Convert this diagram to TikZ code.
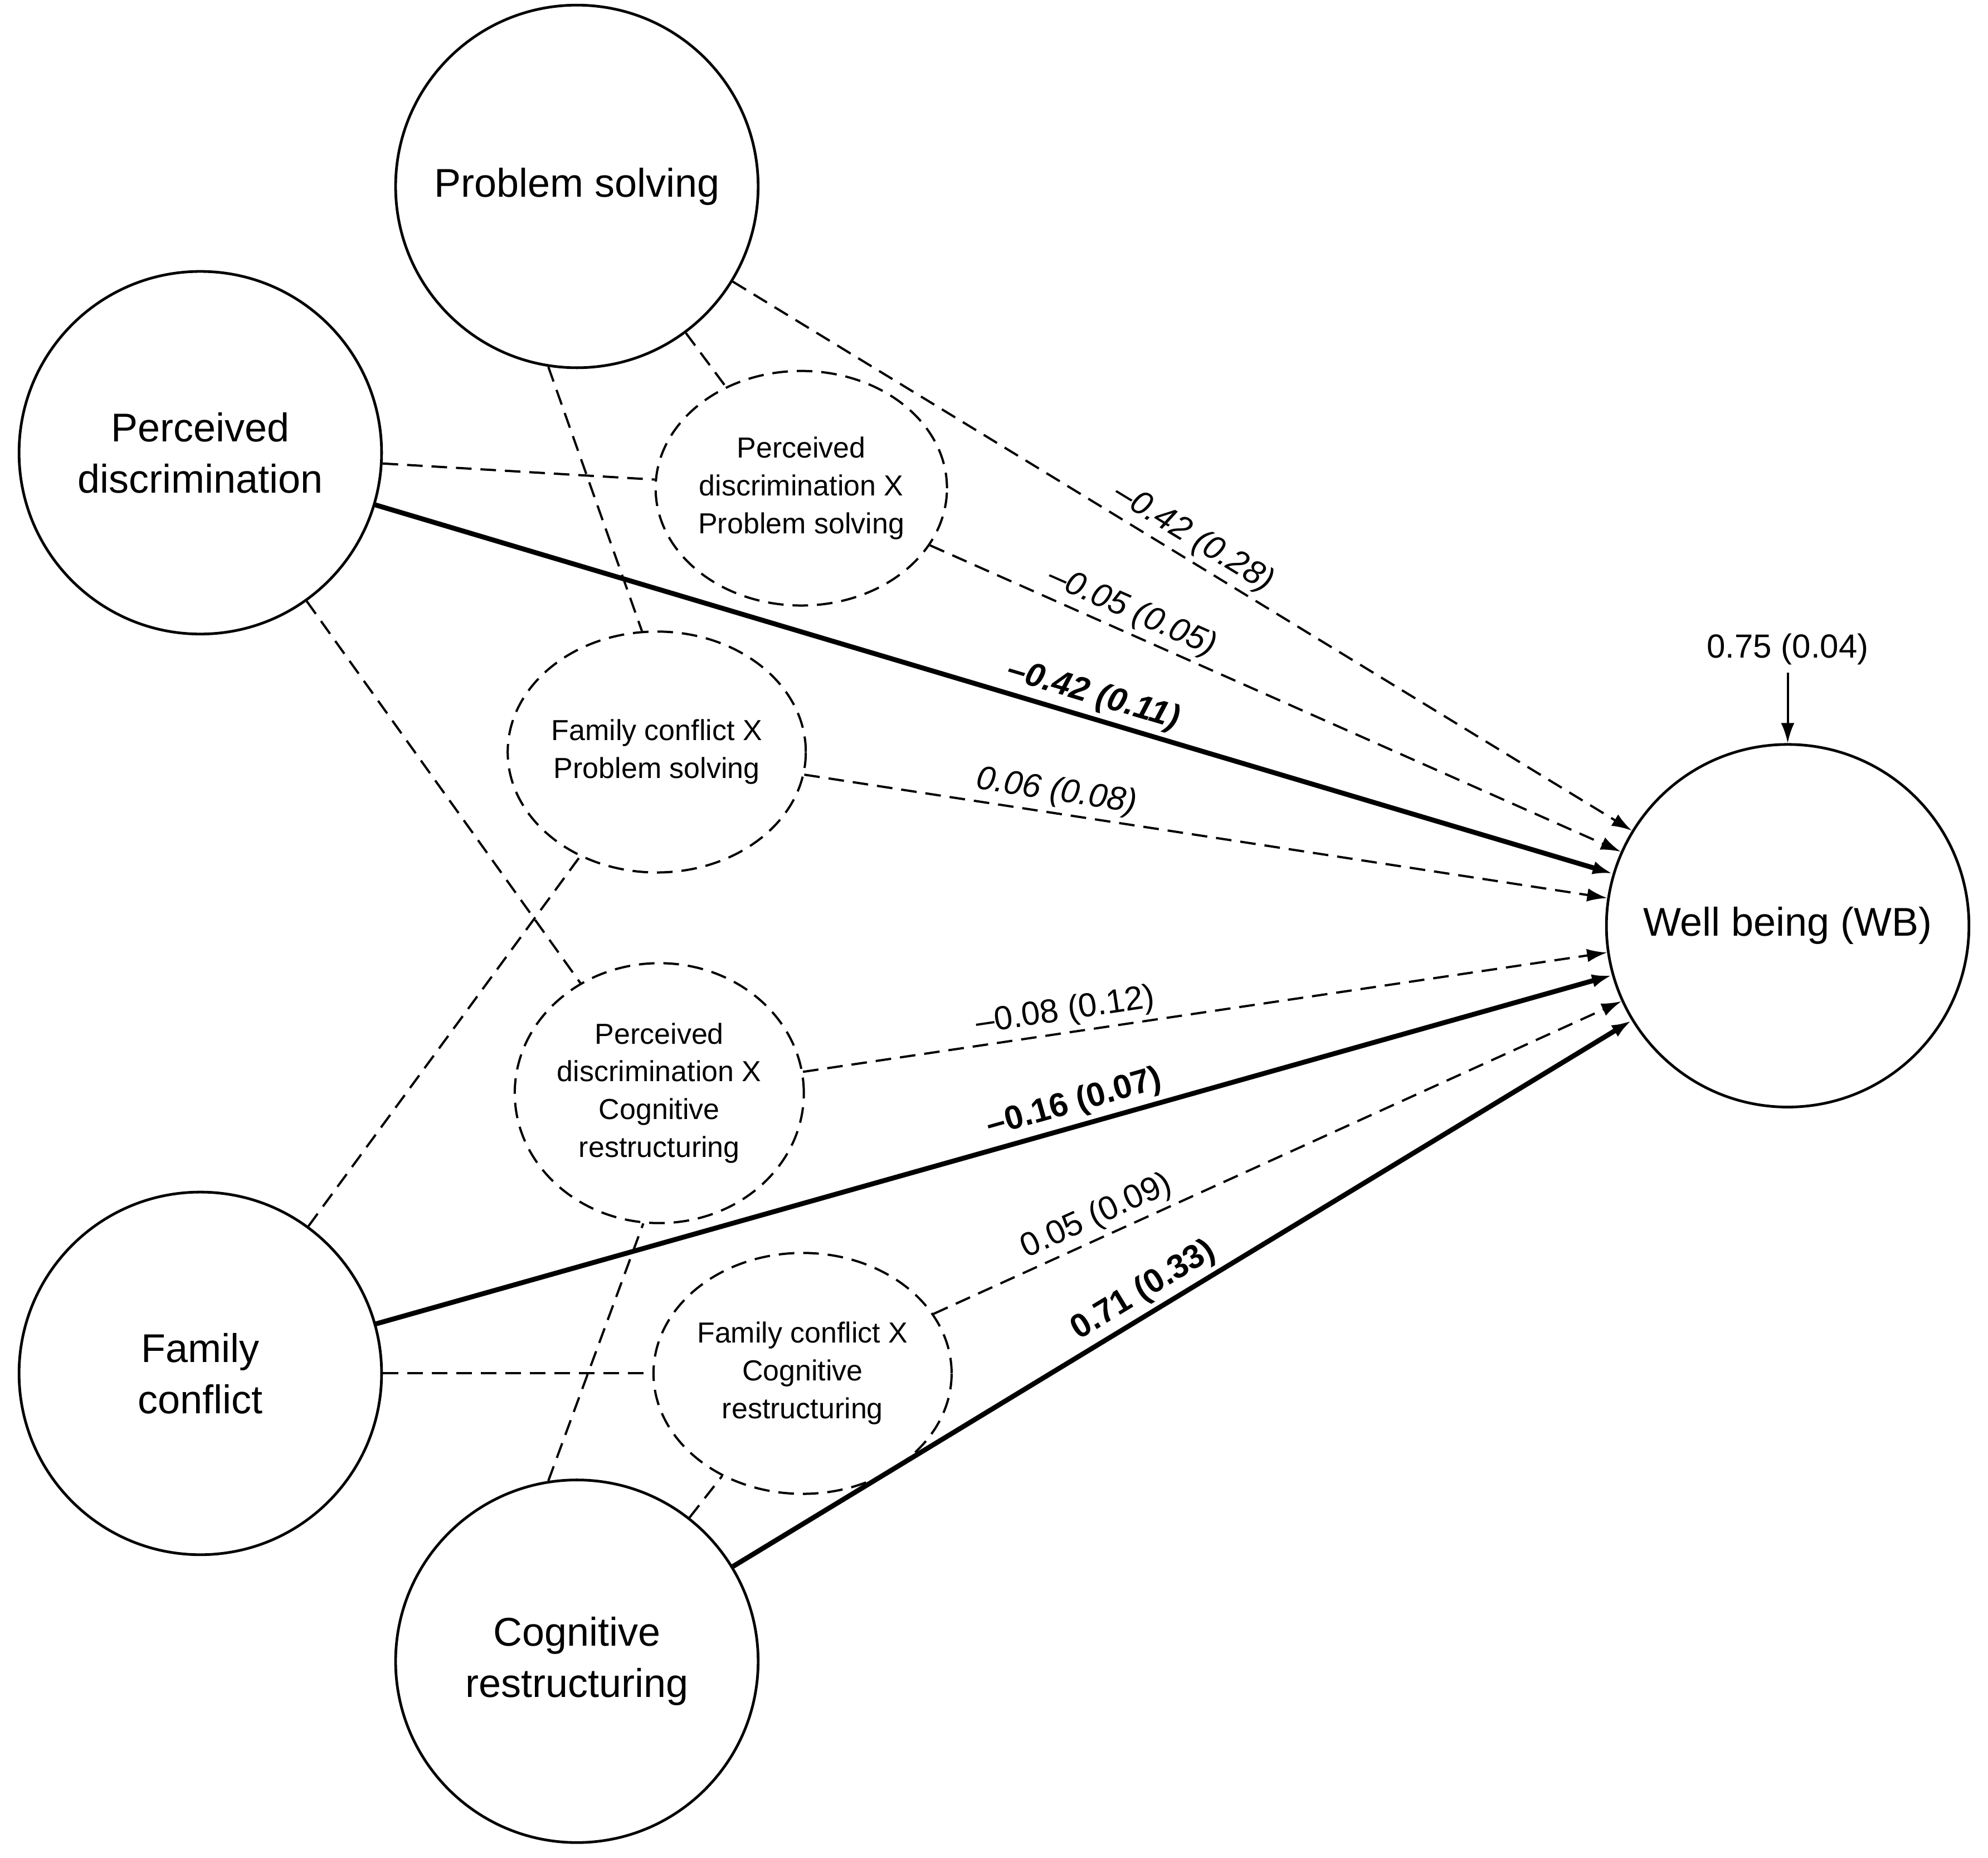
\documentclass[tikz,border=0pt]{standalone}
\usepackage{fontspec}
\setmainfont{Liberation Sans}
\usetikzlibrary{arrows.meta,shapes.geometric}
\begin{document}
\begin{tikzpicture}[x=0.02cm,y=-0.02cm,
 big/.style={circle,draw,line width=1.2pt,minimum size=5.72cm,align=center,font=\fontsize{18}{23}\selectfont},
 dsh/.style={line width=1pt,dash pattern=on 7pt off 4pt},
 sm/.style={ellipse,draw,dsh,inner sep=0pt,align=center,font=\fontsize{13}{17}\selectfont},
 arr/.style={-{Latex[length=9pt,width=6pt]}},
 sol/.style={line width=2.2pt},
 lab/.style={sloped,above,inner sep=2pt,font=\fontsize{15}{18}\selectfont}]
\useasboundingbox (0,0) rectangle (1568,1465);
\node[big] (PS) at (455,147) {Problem solving};
\node[big] (PD) at (158,357) {Perceived\\discrimination};
\node[big] (FC) at (158,1083) {Family\\conflict};
\node[big] (CR) at (455,1310) {Cognitive\\restructuring};
\node[big] (WB) at (1410,730) {Well being (WB)};
\node[sm,minimum width=4.5cm,minimum height=3.7cm] (A) at (632,385) {Perceived\\discrimination X\\Problem solving};
\node[sm,minimum width=4.5cm,minimum height=3.8cm] (B) at (518,593) {Family conflict X\\Problem solving};
\node[sm,minimum width=4.5cm,minimum height=4.1cm] (C) at (520,862) {Perceived\\discrimination X\\Cognitive\\restructuring};
\node[sm,minimum width=4.5cm,minimum height=3.8cm] (D) at (633,1083) {Family conflict X\\Cognitive\\restructuring};
\node[font=\fontsize{15}{18}\selectfont] (res) at (1410,512) {0.75 (0.04)};
\draw[arr,line width=1pt] (res) -- (WB);
\draw[sol,arr] (PD) -- (WB) node[lab,pos=0.575,font=\fontsize{15}{18}\selectfont\bfseries\itshape] {–0.42 (0.11)};
\draw[sol,arr] (FC) -- (WB) node[lab,pos=0.57,font=\fontsize{15}{18}\selectfont\bfseries] {–0.16 (0.07)};
\draw[sol,arr] (CR) -- (WB) node[lab,pos=0.47,font=\fontsize{15}{18}\selectfont\bfseries] {0.71 (0.33)};
\draw[dsh,arr] (PS) -- (WB) node[lab,pos=0.5,font=\fontsize{15}{18}\selectfont\itshape] {–0.42 (0.28)};
\draw[dsh,arr] (A) -- (WB) node[lab,pos=0.28,font=\fontsize{15}{18}\selectfont\itshape] {–0.05 (0.05)};
\draw[dsh,arr] (B) -- (WB) node[lab,pos=0.31,font=\fontsize{15}{18}\selectfont\itshape] {0.06 (0.08)};
\draw[dsh,arr] (C) -- (WB) node[lab,pos=0.33] {–0.08 (0.12)};
\draw[dsh,arr] (D) -- (WB) node[lab,pos=0.25] {0.05 (0.09)};
\draw[dsh] (PS) -- (A);
\draw[dsh] (PD) -- (A);
\draw[dsh] (PS.-99) -- (B.97);
\draw[dsh] (PD) -- (C);
\draw[dsh] (FC) -- (B);
\draw[dsh] (CR.99) -- (C.-97);
\draw[dsh] (FC) -- (D);
\draw[dsh] (CR) -- (D);
\end{tikzpicture}
\end{document}
